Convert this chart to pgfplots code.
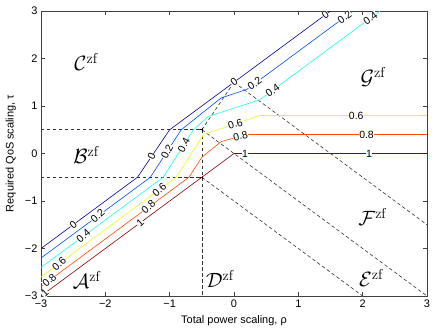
\documentclass[border=0pt]{standalone}
\usepackage{fontspec}
\usepackage{pgfplots}
\pgfplotsset{compat=1.18}
\newfontfamily\hel{Liberation Sans}
\definecolor{lv0}{rgb}{0,0,0.56}
\definecolor{lv2}{rgb}{0,0.3,1}
\definecolor{lv4}{rgb}{0.1,1,0.9}
\definecolor{lv6}{rgb}{0.9,1,0.1}
\definecolor{lv8}{rgb}{1,0.3,0}
\definecolor{lv10}{rgb}{0.55,0,0}
% contour label: x, y, angle, text
\newcommand{\cl}[4]{\node[font=\hel\fontsize{10.5}{12}\selectfont, fill=white, inner sep=0.3pt, rotate=#3] at (axis cs:#1,#2) {#4};}
\newcommand{\reg}[3]{\node[font=\huge] at (axis cs:#1,#2) {$\mathcal{#3}^{\mathrm{zf}}$};}
\begin{document}
\begin{tikzpicture}
\useasboundingbox (-41bp,-35bp) rectangle (395bp,296bp);
\begin{axis}[
  scale only axis, width=386bp, height=285bp,
  xmin=-3, xmax=3, ymin=-3, ymax=3,
  xtick={-3,...,3}, ytick={-3,...,3},
  xticklabels={−3,−2,−1,0,1,2,3}, yticklabels={−3,−2,−1,0,1,2,3},
  tick align=inside, xtick pos=both, ytick pos=both,
  major tick length=4bp,
  every tick/.style={black!75, line width=0.5pt},
  axis line style={black!75, line width=0.5pt},
  ticklabel style={font=\hel\fontsize{11}{13}\selectfont},
  label style={font=\hel\fontsize{11}{13}\selectfont},
  xlabel={Total power scaling, ρ},
  ylabel={Required QoS scaling, τ},
  xlabel style={at={(axis description cs:0.5,-0.086)}, anchor=center},
  ylabel style={at={(axis description cs:-0.078,0.5)}, anchor=center},
  clip mode=individual,
  every axis plot/.append style={line width=0.6pt},
]
% boundaries
\addplot[black!80, dashed, dash pattern=on 3.5pt off 2.5pt] coordinates {(-3,0.5) (-0.5,0.5)};
\addplot[black!80, dashed, dash pattern=on 3.5pt off 2.5pt] coordinates {(-3,-0.5) (-0.5,-0.5)};
\addplot[black!80, dashed, dash pattern=on 3.5pt off 2.5pt] coordinates {(-0.5,0.5) (-0.5,-3)};
\addplot[black!80, dashed, dash pattern=on 3.5pt off 2.5pt] coordinates {(-0.5,0.5) (0,1.5)};
\addplot[black!80, dashed, dash pattern=on 3.5pt off 2.5pt] coordinates {(0,1.5) (3,-1.5)};
\addplot[black!80, dashed, dash pattern=on 3.5pt off 2.5pt] coordinates {(-0.5,0.5) (3,-3)};
\addplot[black!80, dashed, dash pattern=on 3.5pt off 2.5pt] coordinates {(-0.5,-0.5) (2,-3)};
\addplot[black, only marks, mark=+, mark size=1.5pt] coordinates {(-0.5,0.5) (-0.5,-0.5)};
% contours
\addplot[lv0] coordinates {(-3,-2) (-1.5,-0.5) (-1,0.5) (0,1.5) (1.5,3)};
\addplot[lv2] coordinates {(-3,-2.2) (-1.3,-0.5) (-0.82,0.5) (-0.2,1.17) (0.2,1.35) (1.85,3)};
\addplot[lv4] coordinates {(-3,-2.4) (-1.1,-0.5) (-0.63,0.5) (-0.4,0.78) (0.4,1.13) (2.27,3)};
\addplot[lv6] coordinates {(-3,-2.6) (-0.9,-0.5) (-0.47,0.4) (0.4,0.8) (3,0.8)};
\addplot[lv8] coordinates {(-3,-2.8) (-0.7,-0.5) (-0.5,-0.08) (-0.2,0.25) (0.2,0.4) (3,0.4)};
\addplot[lv10] coordinates {(-3,-3) (0,0) (3,0)};
% contour labels
\cl{-2.5}{-1.5}{40}{0}
\cl{-1.28}{-0.06}{62}{0}
\cl{0}{1.5}{36}{0}
\cl{1.42}{2.92}{36}{0}
\cl{-2.12}{-1.32}{42}{0.2}
\cl{-1.04}{0.04}{62}{0.2}
\cl{0.32}{1.47}{36}{0.2}
\cl{1.72}{2.87}{36}{0.2}
\cl{-2.34}{-1.74}{42}{0.4}
\cl{-0.78}{0.18}{62}{0.4}
\cl{0.6}{1.33}{36}{0.4}
\cl{2.12}{2.85}{36}{0.4}
\cl{-2.72}{-2.32}{42}{0.6}
\cl{-1.16}{-0.76}{42}{0.6}
\cl{0.02}{0.62}{18}{0.6}
\cl{1.9}{0.8}{0}{0.6}
\cl{-2.87}{-2.67}{42}{0.8}
\cl{-1.33}{-1.13}{42}{0.8}
\cl{0.1}{0.37}{15}{0.8}
\cl{2.06}{0.4}{0}{0.8}
\cl{-2.94}{-2.94}{42}{1}
\cl{-1.46}{-1.46}{42}{1}
\cl{0.17}{0}{0}{1}
\cl{2.1}{0}{0}{1}
% regions
\reg{-2.3}{1.93}{C}
\reg{-2.3}{-0.03}{B}
\reg{-2.29}{-2.66}{A}
\reg{-0.22}{-2.64}{D}
\reg{2.16}{1.61}{G}
\reg{2.15}{-1.34}{F}
\reg{2.13}{-2.62}{E}
\end{axis}
\end{tikzpicture}
\end{document}
